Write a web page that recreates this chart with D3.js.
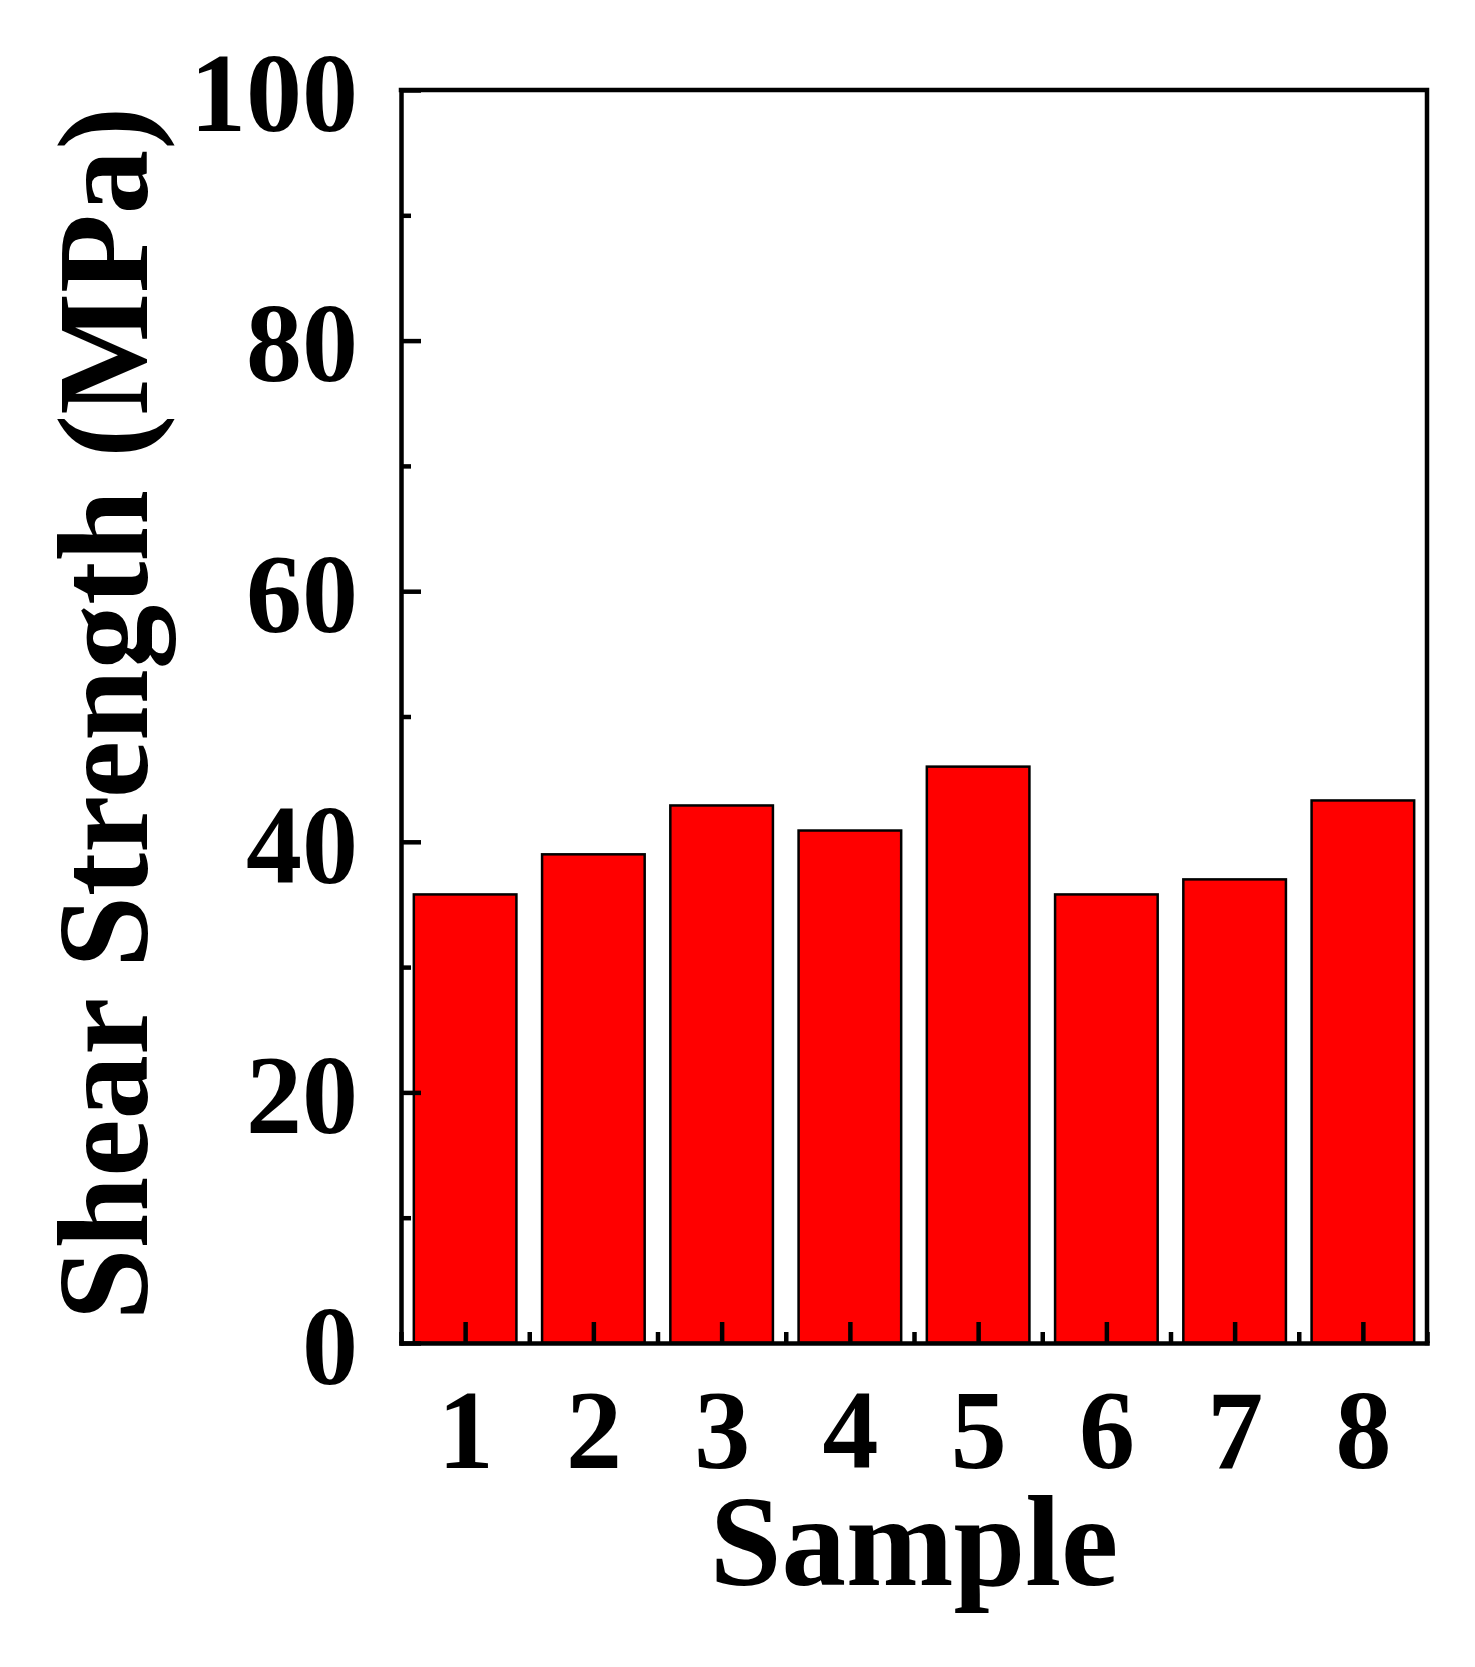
<!DOCTYPE html>
<html>
<head>
<meta charset="utf-8">
<script src="https://cdn.jsdelivr.net/npm/d3@7"></script>
<style>
  html, body { margin: 0; padding: 0; background: #fff; }
  svg { display: block; }
  text { font-family: "Liberation Serif", "Times New Roman", serif; font-weight: bold; fill: #000; }
</style>
</head>
<body>
<script>
const categories = [1, 2, 3, 4, 5, 6, 7, 8];
const shearStrength = [35.8, 39.0, 42.9, 40.9, 46.0, 35.8, 37.0, 43.3];
const yTicks = [0, 20, 40, 60, 80, 100];
const yMinorTicks = [10, 30, 50, 70, 90];
const xMinorTicks = [0.5, 1.5, 2.5, 3.5, 4.5, 5.5, 6.5, 7.5, 8.5];
const xTitle = "Sample";
const yTitle = "Shear Strength (MPa)";

const W = 1475, H = 1667;
const m = { left: 401, right: 1427, top: 90, bottom: 1343 };

const svg = d3.select("body").append("svg").attr("width", W).attr("height", H);

const x = d3.scaleLinear().domain([0.5, 8.5]).range([m.left, m.right]);
const y = d3.scaleLinear().domain([0, 100]).range([m.bottom, m.top]);

// bars
const bw = x(1.4) - x(0.6);
svg.append("g").selectAll("rect").data(categories).join("rect")
  .attr("x", (d) => x(d) - bw / 2)
  .attr("y", (d, i) => y(shearStrength[i]))
  .attr("width", bw)
  .attr("height", (d, i) => y(0) - y(shearStrength[i]))
  .attr("fill", "#ff0000")
  .attr("stroke", "#000")
  .attr("stroke-width", 2.5);

const lw = 4.5;
// frame top & right
svg.append("path")
  .attr("d", `M${m.left},${m.top}H${m.right}V${m.bottom}`)
  .attr("fill", "none").attr("stroke", "#000").attr("stroke-width", lw)
  .attr("stroke-linecap", "square");

// y axis
const yAxis = d3.axisLeft(y).tickValues(yTicks).tickSizeInner(-20).tickSizeOuter(0).tickPadding(43);
const gy = svg.append("g").attr("transform", `translate(${m.left},0)`).call(yAxis);
gy.select(".domain").attr("stroke-width", lw).attr("stroke-linecap", "square");
gy.selectAll(".tick line").attr("stroke-width", lw);
gy.selectAll(".tick text").attr("font-size", 112).attr("font-family", "Liberation Serif").attr("font-weight", "bold").attr("dy", "0.36em");
const yMinor = d3.axisLeft(y).tickValues(yMinorTicks).tickSizeInner(-10).tickSizeOuter(0).tickFormat("");
const gym = svg.append("g").attr("transform", `translate(${m.left},0)`).call(yMinor);
gym.select(".domain").remove();
gym.selectAll(".tick line").attr("stroke-width", lw);

// x axis
const xAxis = d3.axisBottom(x).tickValues(categories).tickSizeInner(-21).tickSizeOuter(0).tickPadding(45);
const gx = svg.append("g").attr("transform", `translate(0,${m.bottom})`).call(xAxis);
gx.select(".domain").attr("stroke-width", lw).attr("stroke-linecap", "square");
gx.selectAll(".tick line").attr("stroke-width", lw);
gx.selectAll(".tick text").attr("font-size", 112).attr("font-family", "Liberation Serif").attr("font-weight", "bold").attr("dy", "0.71em");
const xMinor = d3.axisBottom(x).tickValues(xMinorTicks).tickSizeInner(-11).tickSizeOuter(0).tickFormat("");
const gxm = svg.append("g").attr("transform", `translate(0,${m.bottom})`).call(xMinor);
gxm.select(".domain").remove();
gxm.selectAll(".tick line").attr("stroke-width", lw);

// titles
svg.append("text")
  .attr("x", (m.left + m.right) / 2).attr("y", 1585)
  .attr("text-anchor", "middle").attr("font-size", 129)
  .text(xTitle);

svg.append("text")
  .attr("transform", `translate(147,${(m.top + m.bottom) / 2 - 3}) rotate(-90)`)
  .attr("text-anchor", "middle").attr("font-size", 129)
  .text(yTitle);
</script>
</body>
</html>
